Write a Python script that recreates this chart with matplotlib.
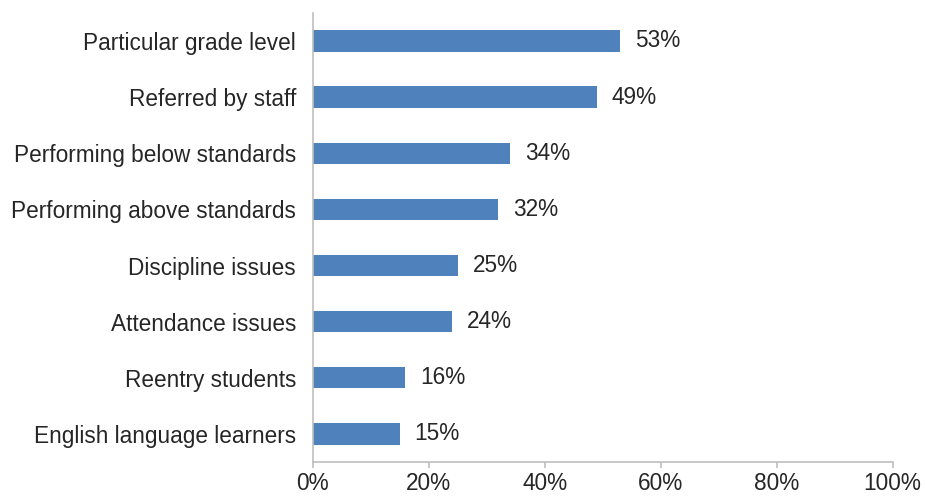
import numpy as np
import matplotlib.pyplot as plt

plt.rcParams['font.family'] = ['Liberation Sans', 'DejaVu Sans']

# Kategori dan nilai (persen)
categories = ['Particular grade level', 'Referred by staff', 'Performing below standards',
              'Performing above standards', 'Discipline issues', 'Attendance issues',
              'Reentry students', 'English language learners']
values = [53, 49, 34, 32, 25, 24, 16, 15]
xticks = [0, 20, 40, 60, 80, 100]

fs = 16.3
fig = plt.figure(figsize=(9.25, 4.96), dpi=100)
ax = fig.add_axes([0.338, 0.0685, 0.627, 0.9055])

y = np.arange(len(categories))
ax.barh(y, values, height=0.38, color='#4F81BD')
for yi, v in zip(y, values):
    ax.text(v + 2.6, yi, f'{v}%', va='center', ha='left', fontsize=fs, color='#262626')

ax.set_ylim(len(categories) - 0.5, -0.5)
ax.set_xlim(0, 100)
ax.set_yticks(y)
ax.set_yticklabels(categories, fontsize=fs, color='#262626')
ax.set_xticks(xticks)
ax.set_xticklabels([f'{t}%' for t in xticks], fontsize=fs, color='#262626')
ax.tick_params(axis='y', length=0, pad=12)
ax.tick_params(axis='x', length=4, color='#BFBFBF', width=1.2, pad=3.5)
for s in ['top', 'right']:
    ax.spines[s].set_visible(False)
for s in ['left', 'bottom']:
    ax.spines[s].set_color('#BFBFBF')
    ax.spines[s].set_linewidth(1.2)

plt.savefig('out.png', dpi=100)
